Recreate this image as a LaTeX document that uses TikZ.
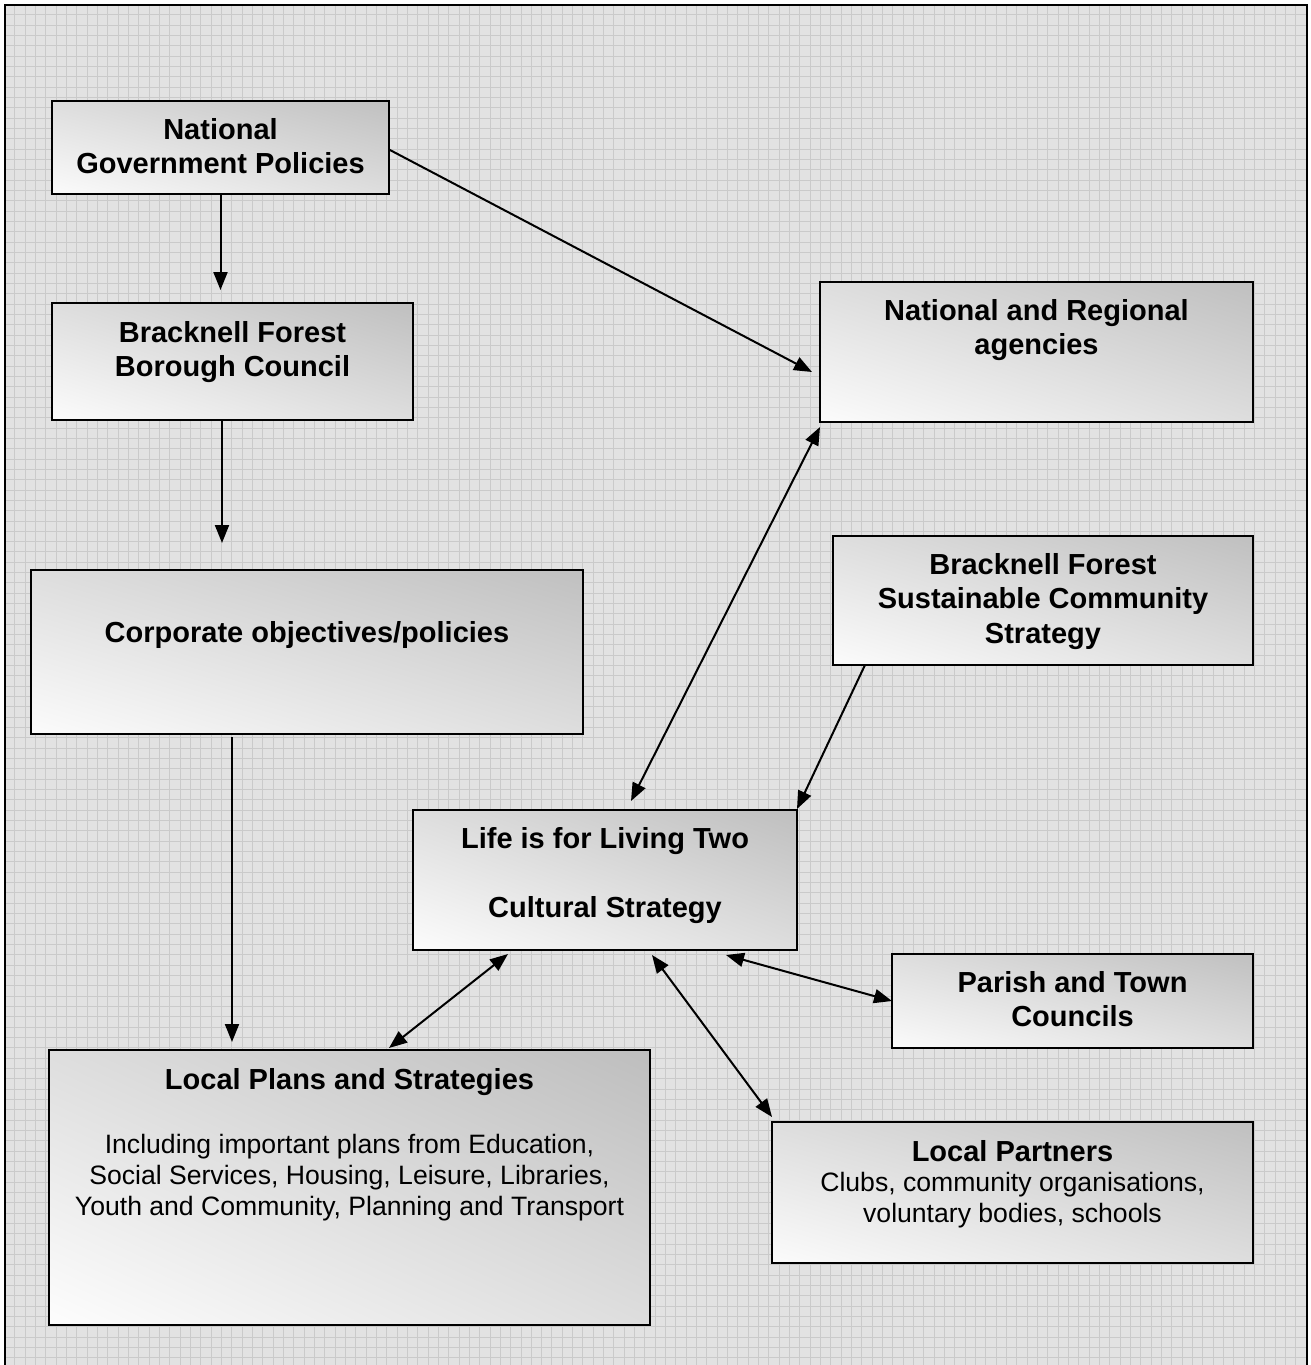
\documentclass[tikz,border=0pt]{standalone}
\usepackage{fontspec}
\setmainfont{Liberation Sans}
\setsansfont{Liberation Sans}
\usetikzlibrary{arrows.meta,calc}
\definecolor{bgc}{RGB}{226,226,226}
\definecolor{gridc}{RGB}{202,202,202}
\definecolor{boxdark}{RGB}{188,188,188}
\pgfdeclareverticalshading{boxshade}{100bp}{color(0bp)=(white); color(15bp)=(white); color(85bp)=(boxdark); color(100bp)=(boxdark)}
\tikzset{
  box/.style={draw=black, line width=2.5pt, rectangle, outer sep=0pt, inner sep=0pt,
    shading=boxshade, shading angle=#1},
  ttl/.style={anchor=north, inner sep=0pt, align=center,
    font=\bfseries\fontsize{29}{34.5}\selectfont},
  body/.style={anchor=north, inner sep=0pt, align=center,
    font=\fontsize{26.6}{30.8}\selectfont},
  arr/.style={line width=2pt, -{Triangle[length=18pt,width=14pt]}},
  darr/.style={line width=2pt, {Triangle[length=18pt,width=14pt]}-{Triangle[length=18pt,width=14pt]}}
}
\begin{document}
\begin{tikzpicture}[x=1pt,y=-1pt]
\useasboundingbox (0,0) rectangle (1310,1365);
\clip (0,0) rectangle (1310,1365);
% background with grid
\fill[white] (0,0) rectangle (1310,1365);
\fill[bgc] (4.5,4.5) rectangle (1306.5,1380);
\foreach \i in {1,...,126} {
  \draw[gridc, line width=1pt] ({4.5+10.33*\i},4.5) -- ({4.5+10.33*\i},1380);
}
\foreach \i in {1,...,133} {
  \draw[gridc, line width=1pt] (4.5,{4.5+10.33*\i}) -- (1306.5,{4.5+10.33*\i});
}
\draw[black, line width=2pt] (4.5,1380) -- (4.5,4.5) -- (1306.5,4.5) -- (1306.5,1380);

% boxes
\node[box=-15.4, minimum width=337pt, minimum height=93pt] (natgov) at (220.5,147.5) {};
\node[box=-17.9, minimum width=361pt, minimum height=117pt] (bfbc) at (232.5,361.5) {};
\node[box=-16.5, minimum width=552pt, minimum height=164pt] (corp) at (307,652) {};
\node[box=-17.9, minimum width=433pt, minimum height=140pt] (natreg) at (1036.5,352) {};
\node[box=-17.1, minimum width=420pt, minimum height=129pt] (bfscs) at (1043,600.5) {};
\node[box=-20, minimum width=384pt, minimum height=140pt] (life) at (605,880) {};
\node[box=-14.6, minimum width=361pt, minimum height=94pt] (parish) at (1072.5,1001) {};
\node[box=-16.3, minimum width=481pt, minimum height=141pt] (lpart) at (1012.5,1192.5) {};
\node[box=-24.6, minimum width=601pt, minimum height=275pt] (lplans) at (349.5,1187.5) {};

% texts
\node[ttl] (natgov-t) at ([yshift=-17pt]natgov.north) {National\\Government Policies};
\node[ttl] (bfbc-t) at ([yshift=-18pt]bfbc.north) {Bracknell Forest\\Borough Council};
\node[ttl] (corp-t) at ([yshift=-51pt]corp.north) {Corporate objectives/policies};
\node[ttl] (natreg-t) at ([yshift=-17pt]natreg.north) {National and Regional\\agencies};
\node[ttl] (bfscs-t) at ([yshift=-17pt]bfscs.north) {Bracknell Forest\\Sustainable Community\\Strategy};
\node[ttl] (life-t) at ([yshift=-17pt]life.north) {Life is for Living Two\\[34.5pt]Cultural Strategy};
\node[ttl] (parish-t) at ([yshift=-17pt]parish.north) {Parish and Town\\Councils};
\node[ttl] (lpart-t) at ([yshift=-18pt]lpart.north) {Local Partners};
\node[body] (lpart-b) at ([yshift=-50.5pt]lpart.north) {Clubs, community organisations,\\voluntary bodies, schools};
\node[ttl] (lplans-t) at ([yshift=-18pt]lplans.north) {Local Plans and Strategies};
\node[body] (lplans-b) at ([yshift=-84.5pt]lplans.north) {Including important plans from Education,\\Social Services, Housing, Leisure, Libraries,\\Youth and Community, Planning and Transport};

% connectors
\draw[arr, shorten >=13pt] (natgov.south) -- (natgov.south |- bfbc.north);
\draw[arr] ([yshift=-2pt]natgov.east) -- ([xshift=-8pt,yshift=-20pt]natreg.west);
\draw[arr, shorten >=27pt] ([xshift=-10.5pt]bfbc.south) -- ([xshift=-10.5pt]bfbc.south |- corp.north);
\draw[arr, shorten <=3pt, shorten >=8pt] ([xshift=-75pt]corp.south) -- ([xshift=-75pt]corp.south |- lplans.north);
\draw[darr] ([yshift=-5pt]natreg.south west) -- ([xshift=26pt,yshift=9pt]life.north);
\draw[arr] ([xshift=32pt]bfscs.south west) -- ([yshift=1pt]life.north east);
\draw[darr] ([xshift=-97pt,yshift=-4pt]life.south) -- ([xshift=39.5pt,yshift=2pt]lplans.north);
\draw[darr] ([xshift=47pt,yshift=-5pt]life.south) -- ([yshift=5pt]lpart.north west);
\draw[darr] ([xshift=121pt,yshift=-5pt]life.south) -- (parish.west);
\end{tikzpicture}
\end{document}
